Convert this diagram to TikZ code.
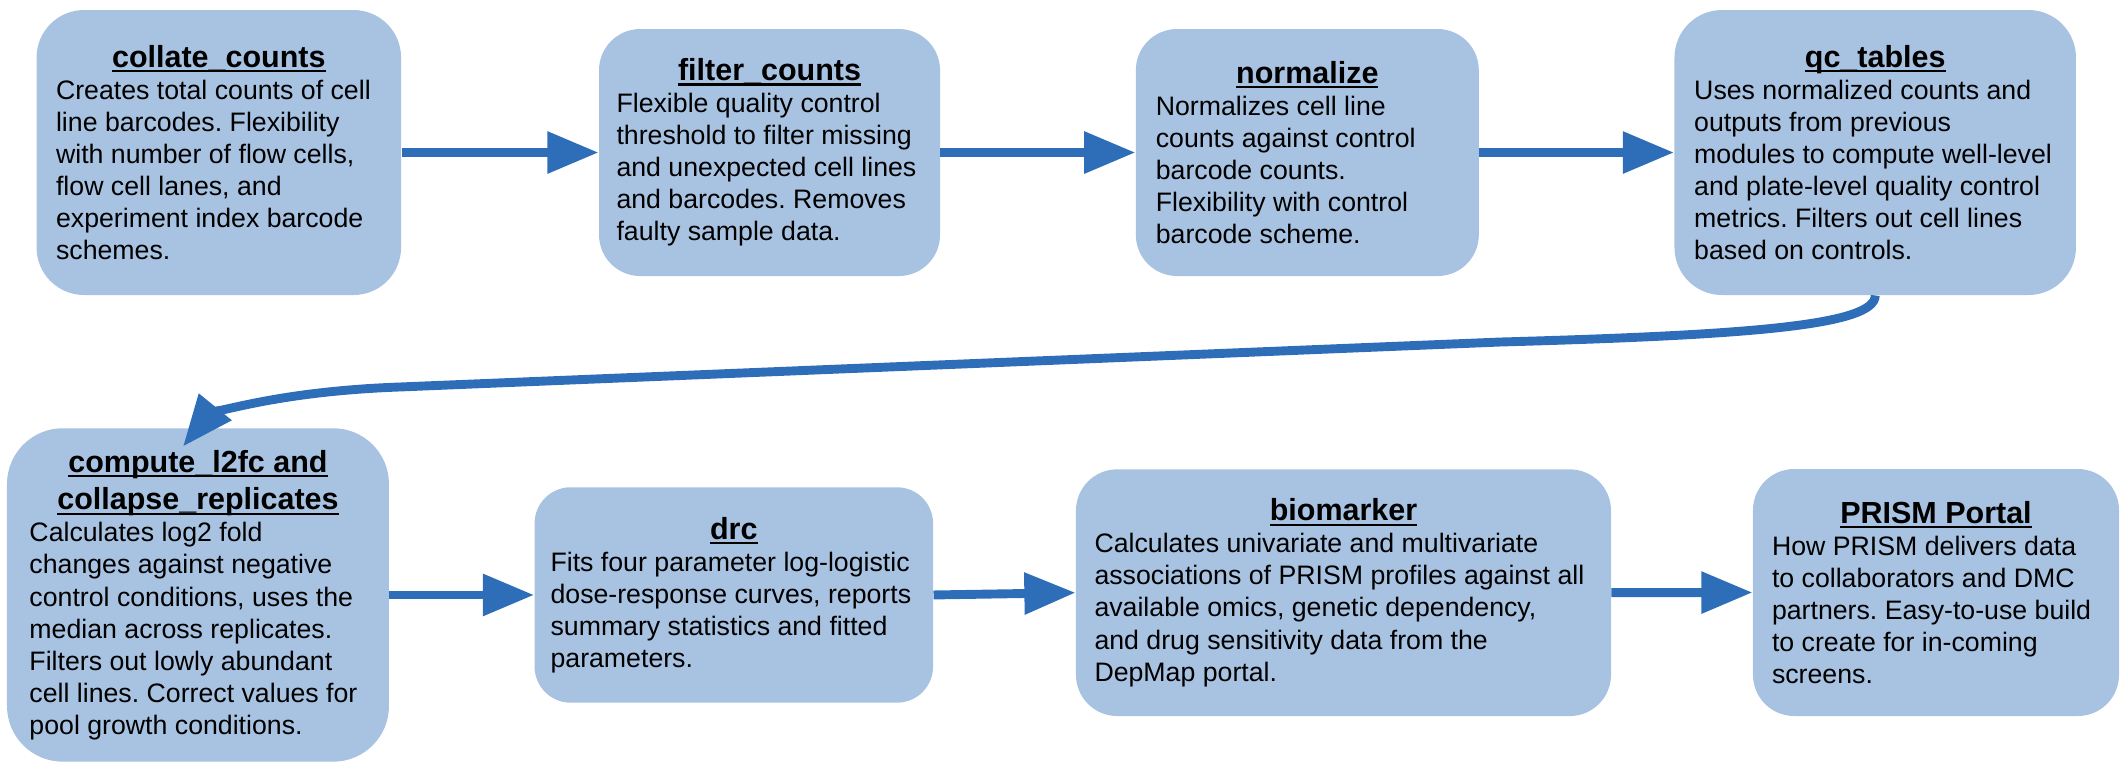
\documentclass[tikz,border=0pt]{standalone}
\usepackage{fontspec}
\setmainfont{Liberation Sans}
\definecolor{boxblue}{RGB}{168, 195, 226}
\definecolor{flowblue}{RGB}{46, 110, 185}
\usetikzlibrary{arrows.meta, calc}
\setlength{\parindent}{0pt}
\frenchspacing
\newcommand{\uln}[1]{\leavevmode\setbox0=\hbox{#1}\rlap{\rule[-0.16em]{\wd0}{0.07em}}\box0}
\newcommand{\modtitle}[1]{{\centering\fontsize{13.7}{16.9}\selectfont\bfseries #1\par}}

\begin{document}
\begin{tikzpicture}[
  module/.style={fill=boxblue, inner xsep=0pt, inner ysep=0pt, align=flush left, font=\fontsize{12}{14.4}\selectfont},
  flow/.style={draw=flowblue, line width=4pt, -{Triangle[length=23pt, width=18pt]}}
]
  \useasboundingbox (0,0) rectangle (33.578,-12.161);

  % Top row
  \node[module, minimum width=5.757cm, minimum height=4.501cm, text width=5.141cm, rounded corners=0.75cm] (collate) at (3.456,-2.409) {
    \modtitle{\uln{collate\_counts}}
    Creates total counts of cell\\
    line barcodes. Flexibility\\
    with number of flow cells,\\
    flow cell lanes, and\\
    experiment index barcode\\
    schemes.
  };

  \node[module, minimum width=5.386cm, minimum height=3.901cm, text width=4.833cm, rounded corners=0.65cm] (filter) at (12.154,-2.409) {
    \modtitle{\uln{filter\_counts}}
    Flexible quality control\\
    threshold to filter missing\\
    and unexpected cell lines\\
    and barcodes. Removes\\
    faulty sample data.
  };

  \node[module, minimum width=5.417cm, minimum height=3.901cm, text width=4.786cm, rounded corners=0.65cm] (normalize) at (20.648,-2.409) {
    \modtitle{\uln{normalize}}
    Normalizes cell line\\
    counts against control\\
    barcode counts.\\
    Flexibility with control\\
    barcode scheme.
  };

  \node[module, minimum width=6.341cm, minimum height=4.501cm, text width=5.717cm, rounded corners=0.75cm] (qc) at (29.617,-2.409) {
    \modtitle{\uln{qc\_tables}}
    Uses normalized counts and\\
    outputs from previous\\
    modules to compute well-level\\
    and plate-level quality control\\
    metrics. Filters out cell lines\\
    based on controls.
  };

  % Bottom row
  \node[module, minimum width=6.033cm, minimum height=5.266cm, text width=5.323cm, rounded corners=0.88cm] (l2fc) at (3.127,-9.397) {
    \modtitle{\uln{compute\_l2fc and}\\ \uln{collapse\_replicates}}
    Calculates log2 fold\\
    changes against negative\\
    control conditions, uses the\\
    median across replicates.\\
    Filters out lowly abundant\\
    cell lines. Correct values for\\
    pool growth conditions.
  };

  \node[module, minimum width=6.294cm, minimum height=3.402cm, text width=5.789cm, rounded corners=0.57cm] (drc) at (11.590,-9.397) {
    \modtitle{\uln{drc}}
    Fits four parameter log-logistic\\
    dose-response curves, reports\\
    summary statistics and fitted\\
    parameters.
  };

  \node[module, minimum width=8.450cm, minimum height=3.896cm, text width=7.865cm, rounded corners=0.65cm] (biomarker) at (21.219,-9.361) {
    \modtitle{\uln{biomarker}}
    Calculates univariate and multivariate\\
    associations of PRISM profiles against all\\
    available omics, genetic dependency,\\
    and drug sensitivity data from the\\
    DepMap portal.
  };

  \node[module, minimum width=5.781cm, minimum height=3.901cm, text width=5.180cm, rounded corners=0.65cm] (portal) at (30.577,-9.358) {
    \modtitle{\uln{PRISM Portal}}
    How PRISM delivers data\\
    to collaborators and DMC\\
    partners. Easy-to-use build\\
    to create for in-coming\\
    screens.
  };

  % Arrows
  \draw[flow] (collate.east) -- (filter.west);
  \draw[flow] (filter.east) -- (normalize.west);
  \draw[flow] (normalize.east) -- (qc.west);
  \draw[flow] (l2fc.east) -- (drc.west);
  \draw[flow] (drc.east) -- (biomarker.west);
  \draw[flow] (biomarker.east) -- (portal.west);

  % Wrap-around from qc_tables to compute_l2fc
  \coordinate (bendA) at (23.691,-5.402);
  \coordinate (bendB) at (6.318,-6.112);
  \draw[flow] (qc.south) .. controls +(0,-0.474) and +(3.949,0.111) .. (bendA) -- (bendB)
    .. controls +(-2.211,-0.079) and +(0.347,0.426) .. ($(l2fc.north)+(-0.237,-0.295)$);
\end{tikzpicture}
\end{document}
